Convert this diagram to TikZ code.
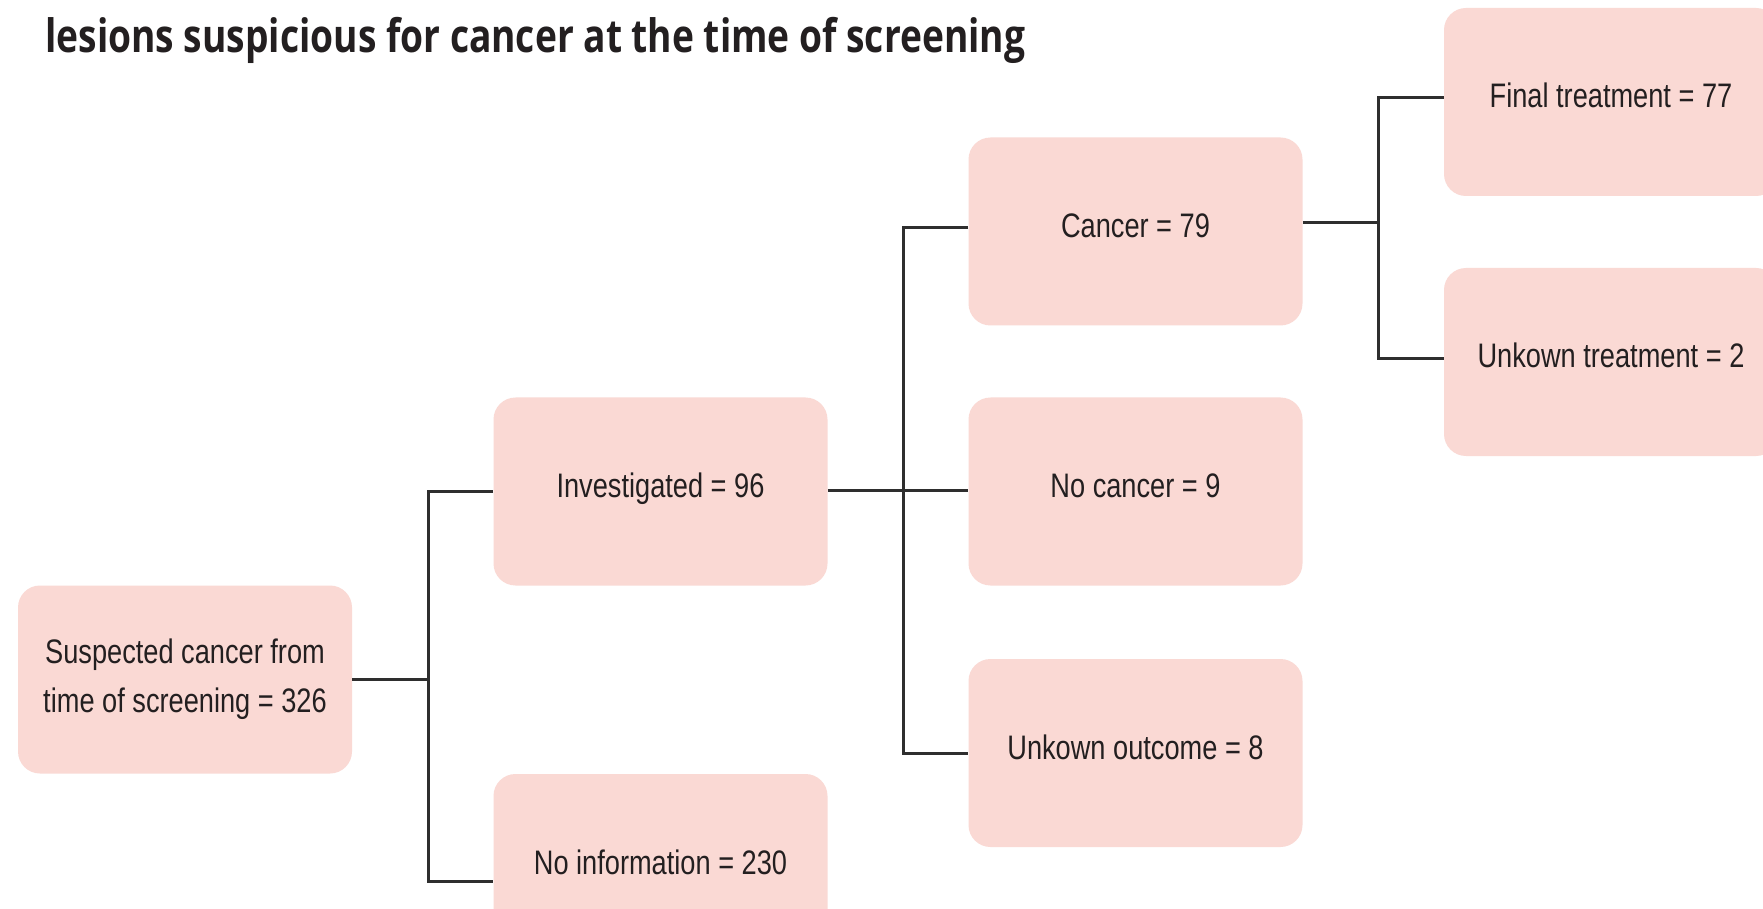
\documentclass[tikz,border=0pt]{standalone}
\usepackage{fontspec}
\usepackage{graphicx}
\setmainfont{Liberation Sans}[FakeStretch=0.8]
\newfontfamily\titlefont{Open Sans}
\definecolor{boxfill}{HTML}{FAD9D4}
\definecolor{txt}{HTML}{231F20}
\definecolor{linec}{HTML}{2E2E2E}
\begin{document}
\begin{tikzpicture}[x=0.5pt,y=-0.5pt,
  flowbox/.style={fill=boxfill,draw=none,rounded corners=11pt,
    minimum width=167pt,minimum height=94pt,inner sep=0pt,align=center,
    text=txt,font=\fontsize{17pt}{24.5pt}\selectfont},
  oneline/.style={flowbox,text height=12pt,text depth=6pt},
  conn/.style={draw=linec,line width=1.5pt}]
\useasboundingbox (0,0) rectangle (1763,909);
\fill[white] (0,0) rectangle (1763,909);
\node[anchor=base west,inner sep=0pt,text=txt] (title) at (45,53)
  {\resizebox{490pt}{\height}{\titlefont\bfseries\fontsize{23pt}{27pt}\selectfont lesions suspicious for cancer at the time of screening}};
\node[flowbox] (susp) at (185,679.5) {Suspected cancer from\\time of screening = 326};
\node[oneline] (inv) at (660.5,491.5) {Investigated = 96};
\node[oneline] (noinfo) at (660.5,868) {No information = 230};
\node[oneline] (cancer) at (1135.5,231.5) {Cancer = 79};
\node[oneline] (nocancer) at (1135.5,491.5) {No cancer = 9};
\node[oneline] (unkout) at (1135.5,753) {Unkown outcome = 8};
\node[oneline] (final) at (1611,102) {Final treatment = 77};
\node[oneline] (unktr) at (1611,362) {Unkown treatment = 2};
\coordinate (j1) at (428,679.5);
\coordinate (j2) at (903,490);
\coordinate (j3) at (1378,223);
\draw[conn] (susp.east) -- (j1);
\draw[conn] (inv.west) -| (j1) |- ([yshift=-6.5pt]noinfo.west);
\draw[conn] ([yshift=0.75pt]inv.east) -- ([yshift=0.75pt]nocancer.west);
\draw[conn] ([yshift=1.75pt]cancer.west) -| (j2) |- (unkout.west);
\draw[conn] ([yshift=4.25pt]cancer.east) -- (j3);
\draw[conn] ([yshift=2pt]final.west) -| (j3) |- ([yshift=1.5pt]unktr.west);
\end{tikzpicture}
\end{document}
